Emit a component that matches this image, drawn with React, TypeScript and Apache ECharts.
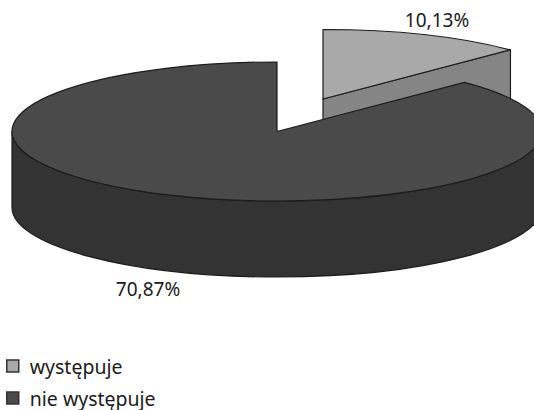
import React, { useEffect, useRef } from "react";
import * as echarts from "echarts";

const categories = ["występuje", "nie występuje"];
const shares = [10.13, 70.87];
const topColors = ["#a9a9a9", "#4a4a4a"];
const wallColors = ["#858585", "#333333"];

const FONT = '"Noto Sans", sans-serif';
const OUTLINE = "#1c1c1c";

// Projected disc: an ellipse with a vertical wall below it.
const CX = 277;
const CY = 131.5;
const RX = 265;
const RY = 69.5;
const DEPTH = 76;

// The first slice is pulled out of the disc by this offset.
const explode = [
  [46, -32.5],
  [0, 0],
];
const labelAnchors = [
  [437, 20],
  [148, 289],
];

const total = shares.reduce((a, b) => a + b, 0);

// Angle in radians, clockwise from twelve o'clock, at a cumulative share.
const angleAt = (share: number) => (share / total) * Math.PI * 2;
const rimPoint = (a: number, ox: number, oy: number) => [
  CX + ox + RX * Math.sin(a),
  CY + oy - RY * Math.cos(a),
];

function renderSlice(params: any, api: any) {
  const i = params.seriesIndex;
  const value = api.value(0);
  const before = shares.slice(0, i).reduce((a, b) => a + b, 0);
  const a0 = angleAt(before);
  const a1 = angleAt(before + value);
  const [ox, oy] = explode[i];
  const cx = CX + ox;
  const cy = CY + oy;
  const [x0, y0] = rimPoint(a0, ox, oy);
  const [x1, y1] = rimPoint(a1, ox, oy);
  const large = a1 - a0 > Math.PI ? 1 : 0;
  const edge = { stroke: OUTLINE, lineWidth: 1.2, lineJoin: "round" };

  const top = `M${cx} ${cy}L${x0} ${y0}A${RX} ${RY} 0 ${large} 1 ${x1} ${y1}Z`;
  let wall: string;
  if (large) {
    // Outer wall, visible only across the front half of the rim.
    const l = cx - RX;
    const r = cx + RX;
    wall = `M${r} ${cy}A${RX} ${RY} 0 0 1 ${l} ${cy}L${l} ${cy + DEPTH}A${RX} ${RY} 0 0 0 ${r} ${cy + DEPTH}Z`;
  } else {
    // Cut face of the pulled-out slice, running from apex to rim.
    wall = `M${cx} ${cy}L${x1} ${y1}L${x1} ${y1 + DEPTH}L${cx} ${cy + DEPTH}Z`;
  }

  return {
    type: "group",
    children: [
      {
        type: "path",
        shape: { pathData: wall },
        style: { fill: wallColors[i], ...edge },
      },
      {
        type: "path",
        shape: { pathData: top },
        style: { fill: topColors[i], ...edge },
      },
      {
        type: "text",
        x: labelAnchors[i][0],
        y: labelAnchors[i][1],
        style: {
          text: `${value.toFixed(2).replace(".", ",")}%`,
          font: `19px ${FONT}`,
          fill: "#1a1a1a",
          align: "center",
          verticalAlign: "middle",
        },
      },
    ],
  };
}

export default function App() {
  const ref = useRef<HTMLDivElement>(null);

  useEffect(() => {
    const chart = echarts.init(ref.current!, undefined, { renderer: "svg" });
    chart.setOption({
      animation: false,
      backgroundColor: "#ffffff",
      legend: {
        orient: "vertical",
        left: 6,
        top: 356,
        height: 90,
        padding: 0,
        itemWidth: 12,
        itemHeight: 12,
        itemGap: 12,
        icon: "rect",
        textStyle: { fontFamily: FONT, fontSize: 19.5, color: "#1a1a1a", padding: [0, 0, 0, 6] },
        data: categories.map((name, i) => ({
          name,
          itemStyle: { color: topColors[i], borderColor: "#333333", borderWidth: 1.5 },
        })),
      },
      series: categories.map((name, i) => ({
        type: "custom",
        name,
        coordinateSystem: "none",
        silent: true,
        itemStyle: { color: topColors[i] },
        renderItem: renderSlice,
        data: [[shares[i]]],
      })),
    });
    return () => chart.dispose();
  }, []);

  return (
    <div
      ref={ref}
      style={{ position: "fixed", left: 0, top: 0, width: 534, height: 410 }}
    />
  );
}
